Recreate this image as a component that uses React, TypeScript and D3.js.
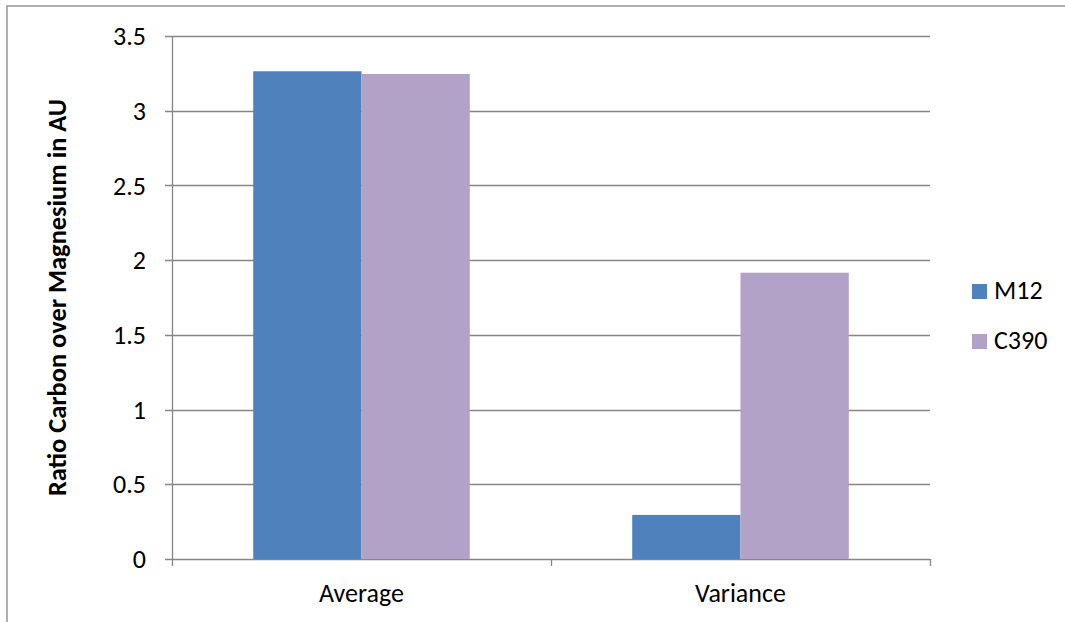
import React from "react";
import * as d3 from "d3";

const categories = ["Average", "Variance"];
const seriesNames = ["M12", "C390"];
const m12Values = [3.264, 0.295];
const c390Values = [3.246, 1.916];
const yTicks = [0, 0.5, 1, 1.5, 2, 2.5, 3, 3.5];
const colors = ["#4F81BD", "#B2A2C7"];
const yTitle = "Ratio Carbon over Magnesium in AU";

const W = 1065;
const H = 622;
const FONT = "Carlito, Calibri, 'Liberation Sans', sans-serif";

export default function App() {
  const left = 172, right = 930, top = 36, bottom = 559;
  const y = d3.scaleLinear().domain([0, 3.5]).range([bottom, top]);
  const x0 = d3.scaleBand().domain(categories).range([left, right]).paddingInner(0).paddingOuter(0);
  const bw = x0.bandwidth();
  const barW = bw / 3.5;
  const x1 = d3.scaleBand().domain(seriesNames).range([bw * 0.75 / 3.5, bw - bw * 0.75 / 3.5]);
  const series = [m12Values, c390Values];
  const grid = "#868686";

  return (
    <svg width={W} height={H} style={{ position: "absolute", left: 0, top: 0, background: "#fff" }} fontFamily={FONT}>
      <rect x={7} y={6} width={1070} height={630} fill="#fff" stroke={grid} strokeWidth={1.3} />
      {yTicks.map((t) => (
        <g key={t}>
          <line x1={left - 7} x2={right} y1={Math.round(y(t)) + 0.5} y2={Math.round(y(t)) + 0.5} stroke={grid} strokeWidth={1.3} />
          <text x={146} y={y(t)} dy="0.35em" textAnchor="end" fontSize={26} fill="#000">{t}</text>
        </g>
      ))}
      <line x1={left + 0.5} x2={left + 0.5} y1={top} y2={bottom} stroke={grid} strokeWidth={1.3} />
      {[left, left + bw, right].map((v, i) => (
        <line key={i} x1={v + 0.5} x2={v + 0.5} y1={bottom} y2={bottom + 7} stroke={grid} strokeWidth={1.3} />
      ))}
      {categories.map((c, ci) =>
        series.map((s, si) => (
          <rect
            key={c + si}
            x={(x0(c) as number) + (x1(seriesNames[si]) as number)}
            y={y(s[ci])}
            width={barW}
            height={bottom - y(s[ci])}
            fill={colors[si]}
          />
        ))
      )}
      {categories.map((c) => (
        <text key={c} x={(x0(c) as number) + bw / 2} y={602} textAnchor="middle" fontSize={26} fill="#000">{c}</text>
      ))}
      <text
        transform={`translate(66, ${(top + bottom) / 2}) rotate(-90)`}
        textAnchor="middle"
        fontSize={26.4}
        fontWeight="bold"
        fill="#000"
      >
        {yTitle}
      </text>
      {seriesNames.map((n, i) => (
        <g key={n} transform={`translate(972, ${284 + i * 50})`}>
          <rect x={0} y={0} width={15} height={15} fill={colors[i]} />
          <text x={22} y={15} fontSize={26} fill="#000">{n}</text>
        </g>
      ))}
    </svg>
  );
}
